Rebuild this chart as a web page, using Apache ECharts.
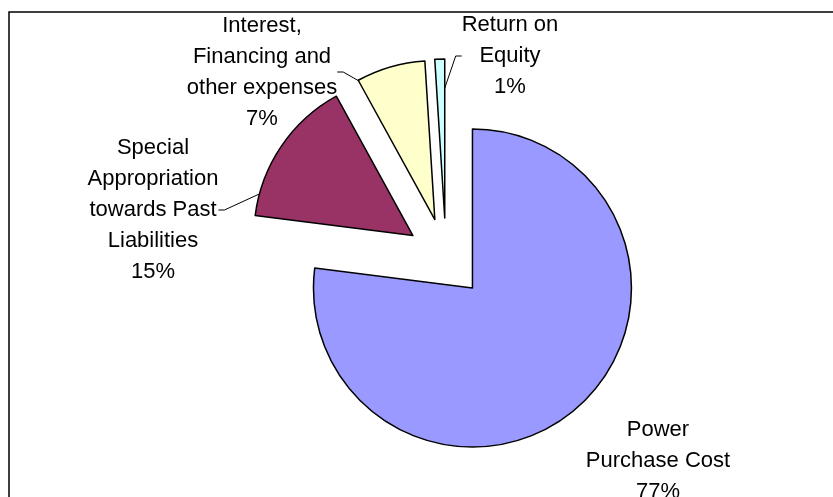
<!DOCTYPE html>
<html>
<head>
<meta charset="utf-8">
<script src="https://cdn.jsdelivr.net/npm/echarts@6/dist/echarts.min.js"></script>
<style>
  html, body { margin: 0; padding: 0; background: #fff; }
</style>
</head>
<body>
<div id="costPie" style="width: 833px;height: 497px;"></div>
<script>
// data
const categories = [
  'Power\nPurchase Cost',
  'Special\nAppropriation\ntowards Past\nLiabilities',
  'Interest,\nFinancing and\nother expenses',
  'Return on\nEquity'
];
const shares = [77, 15, 7, 1];
const sliceColors = ['#9999FF', '#993366', '#FFFFCC', '#CCFFFF'];

// centre of each label block
const labelSpots = [[658, 461], [153, 210], [262, 72], [510, 56]];

let chart = echarts.init(document.getElementById('costPie'), null, {
  width: 833,
  height: 497
});

let pieBase = {
  type: 'pie',
  center: [446, 258],
  radius: 159,
  startAngle: 90,
  clockwise: true,
  avoidLabelOverlap: false,
  emphasis: {disabled: true}
};

let option = {
  backgroundColor: '#ffffff',
  animation: false,
  graphic: [
    {
      type: 'polyline',
      shape: {points: [[9, 497], [9, 12], [833, 12]]},
      style: {stroke: '#000', lineWidth: 1.5, fill: null}
    }
  ],
  series: [
    // labels + leader lines, sits under the exploded slices
    // (labels on a selected pie lose their labelLayout x/y, hence this copy)
    Object.assign({}, pieBase, {
      z: 1,
      silent: true,
      itemStyle: {color: 'rgba(0,0,0,0)', borderWidth: 0},
      label: {
        show: true,
        color: '#000',
        fontFamily: 'Liberation Sans, Arial, sans-serif',
        fontSize: 22,
        lineHeight: 31,
        formatter: function (p) {
          return p.name + '\n' + p.value + '%';
        }
      },
      labelLine: {
        show: true,
        length: 8,
        length2: 6,
        lineStyle: {color: '#000', width: 1}
      },
      labelLayout: function (params) {
        let s = labelSpots[params.dataIndex];
        return {x: s[0], y: s[1], align: 'center', verticalAlign: 'middle'};
      },
      data: categories.map(function (name, i) {
        return {name: name, value: shares[i], labelLine: {show: i !== 0}};
      })
    }),
    // exploded slices
    Object.assign({}, pieBase, {
      z: 2,
      selectedMode: 'multiple',
      selectedOffset: 40,
      itemStyle: {borderColor: '#000', borderWidth: 1.5},
      label: {show: false},
      labelLine: {show: false},
      data: categories.map(function (name, i) {
        return {
          name: name,
          value: shares[i],
          selected: true,
          itemStyle: {color: sliceColors[i]}
        };
      })
    })
  ]
};

chart.setOption(option);
</script>
</body>
</html>
